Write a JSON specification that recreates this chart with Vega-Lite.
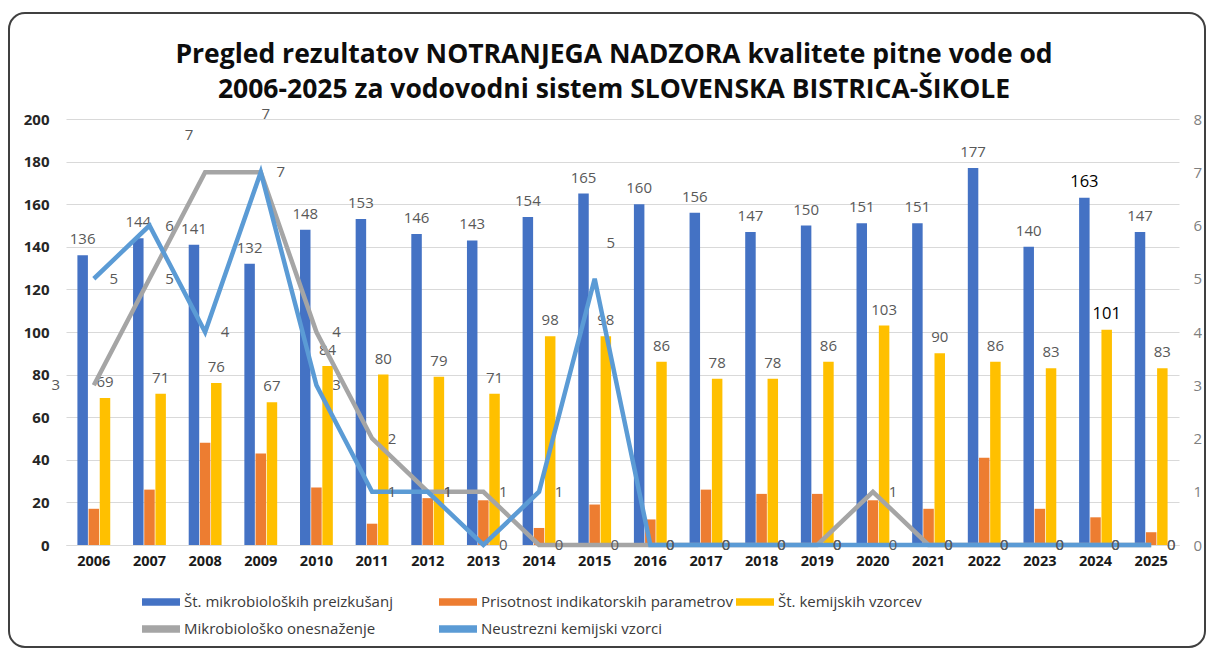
{
  "$schema": "https://vega.github.io/schema/vega-lite/v6.json",
  "width": 1196,
  "height": 634,
  "autosize": {"type": "none"},
  "padding": {"left": 9, "top": 13, "right": 3, "bottom": 1},
  "background": "white",
  "config": {
    "view": {"stroke": "#404040", "strokeWidth": 2, "cornerRadius": 16, "fill": "white"},
    "font": "Open Sans"
  },
  "title": {
    "text": ["Pregled rezultatov NOTRANJEGA NADZORA kvalitete pitne vode od", "2006-2025 za vodovodni sistem SLOVENSKA BISTRICA-ŠIKOLE"],
    "anchor": "middle",
    "font": "Open Sans",
    "fontSize": 26.5,
    "fontWeight": "bold",
    "color": "#0d0d0d",
    "lineHeight": 35,
    "offset": -90,
    "dx": 7
  },
  "datasets": {
    "bars": [
      {"year": "2006", "series": "Št. mikrobioloških preizkušanj", "value": 136},
      {"year": "2006", "series": "Prisotnost indikatorskih parametrov", "value": 17},
      {"year": "2006", "series": "Št. kemijskih vzorcev", "value": 69},
      {"year": "2007", "series": "Št. mikrobioloških preizkušanj", "value": 144},
      {"year": "2007", "series": "Prisotnost indikatorskih parametrov", "value": 26},
      {"year": "2007", "series": "Št. kemijskih vzorcev", "value": 71},
      {"year": "2008", "series": "Št. mikrobioloških preizkušanj", "value": 141},
      {"year": "2008", "series": "Prisotnost indikatorskih parametrov", "value": 48},
      {"year": "2008", "series": "Št. kemijskih vzorcev", "value": 76},
      {"year": "2009", "series": "Št. mikrobioloških preizkušanj", "value": 132},
      {"year": "2009", "series": "Prisotnost indikatorskih parametrov", "value": 43},
      {"year": "2009", "series": "Št. kemijskih vzorcev", "value": 67},
      {"year": "2010", "series": "Št. mikrobioloških preizkušanj", "value": 148},
      {"year": "2010", "series": "Prisotnost indikatorskih parametrov", "value": 27},
      {"year": "2010", "series": "Št. kemijskih vzorcev", "value": 84},
      {"year": "2011", "series": "Št. mikrobioloških preizkušanj", "value": 153},
      {"year": "2011", "series": "Prisotnost indikatorskih parametrov", "value": 10},
      {"year": "2011", "series": "Št. kemijskih vzorcev", "value": 80},
      {"year": "2012", "series": "Št. mikrobioloških preizkušanj", "value": 146},
      {"year": "2012", "series": "Prisotnost indikatorskih parametrov", "value": 22},
      {"year": "2012", "series": "Št. kemijskih vzorcev", "value": 79},
      {"year": "2013", "series": "Št. mikrobioloških preizkušanj", "value": 143},
      {"year": "2013", "series": "Prisotnost indikatorskih parametrov", "value": 21},
      {"year": "2013", "series": "Št. kemijskih vzorcev", "value": 71},
      {"year": "2014", "series": "Št. mikrobioloških preizkušanj", "value": 154},
      {"year": "2014", "series": "Prisotnost indikatorskih parametrov", "value": 8},
      {"year": "2014", "series": "Št. kemijskih vzorcev", "value": 98},
      {"year": "2015", "series": "Št. mikrobioloških preizkušanj", "value": 165},
      {"year": "2015", "series": "Prisotnost indikatorskih parametrov", "value": 19},
      {"year": "2015", "series": "Št. kemijskih vzorcev", "value": 98},
      {"year": "2016", "series": "Št. mikrobioloških preizkušanj", "value": 160},
      {"year": "2016", "series": "Prisotnost indikatorskih parametrov", "value": 12},
      {"year": "2016", "series": "Št. kemijskih vzorcev", "value": 86},
      {"year": "2017", "series": "Št. mikrobioloških preizkušanj", "value": 156},
      {"year": "2017", "series": "Prisotnost indikatorskih parametrov", "value": 26},
      {"year": "2017", "series": "Št. kemijskih vzorcev", "value": 78},
      {"year": "2018", "series": "Št. mikrobioloških preizkušanj", "value": 147},
      {"year": "2018", "series": "Prisotnost indikatorskih parametrov", "value": 24},
      {"year": "2018", "series": "Št. kemijskih vzorcev", "value": 78},
      {"year": "2019", "series": "Št. mikrobioloških preizkušanj", "value": 150},
      {"year": "2019", "series": "Prisotnost indikatorskih parametrov", "value": 24},
      {"year": "2019", "series": "Št. kemijskih vzorcev", "value": 86},
      {"year": "2020", "series": "Št. mikrobioloških preizkušanj", "value": 151},
      {"year": "2020", "series": "Prisotnost indikatorskih parametrov", "value": 21},
      {"year": "2020", "series": "Št. kemijskih vzorcev", "value": 103},
      {"year": "2021", "series": "Št. mikrobioloških preizkušanj", "value": 151},
      {"year": "2021", "series": "Prisotnost indikatorskih parametrov", "value": 17},
      {"year": "2021", "series": "Št. kemijskih vzorcev", "value": 90},
      {"year": "2022", "series": "Št. mikrobioloških preizkušanj", "value": 177},
      {"year": "2022", "series": "Prisotnost indikatorskih parametrov", "value": 41},
      {"year": "2022", "series": "Št. kemijskih vzorcev", "value": 86},
      {"year": "2023", "series": "Št. mikrobioloških preizkušanj", "value": 140},
      {"year": "2023", "series": "Prisotnost indikatorskih parametrov", "value": 17},
      {"year": "2023", "series": "Št. kemijskih vzorcev", "value": 83},
      {"year": "2024", "series": "Št. mikrobioloških preizkušanj", "value": 163},
      {"year": "2024", "series": "Prisotnost indikatorskih parametrov", "value": 13},
      {"year": "2024", "series": "Št. kemijskih vzorcev", "value": 101},
      {"year": "2025", "series": "Št. mikrobioloških preizkušanj", "value": 147},
      {"year": "2025", "series": "Prisotnost indikatorskih parametrov", "value": 6},
      {"year": "2025", "series": "Št. kemijskih vzorcev", "value": 83}
    ],
    "lines": [
      {"year": "2006", "series": "Mikrobiološko onesnaženje", "value": 3},
      {"year": "2007", "series": "Mikrobiološko onesnaženje", "value": 5},
      {"year": "2008", "series": "Mikrobiološko onesnaženje", "value": 7},
      {"year": "2009", "series": "Mikrobiološko onesnaženje", "value": 7},
      {"year": "2010", "series": "Mikrobiološko onesnaženje", "value": 4},
      {"year": "2011", "series": "Mikrobiološko onesnaženje", "value": 2},
      {"year": "2012", "series": "Mikrobiološko onesnaženje", "value": 1},
      {"year": "2013", "series": "Mikrobiološko onesnaženje", "value": 1},
      {"year": "2014", "series": "Mikrobiološko onesnaženje", "value": 0},
      {"year": "2015", "series": "Mikrobiološko onesnaženje", "value": 0},
      {"year": "2016", "series": "Mikrobiološko onesnaženje", "value": 0},
      {"year": "2017", "series": "Mikrobiološko onesnaženje", "value": 0},
      {"year": "2018", "series": "Mikrobiološko onesnaženje", "value": 0},
      {"year": "2019", "series": "Mikrobiološko onesnaženje", "value": 0},
      {"year": "2020", "series": "Mikrobiološko onesnaženje", "value": 1},
      {"year": "2021", "series": "Mikrobiološko onesnaženje", "value": 0},
      {"year": "2022", "series": "Mikrobiološko onesnaženje", "value": 0},
      {"year": "2023", "series": "Mikrobiološko onesnaženje", "value": 0},
      {"year": "2024", "series": "Mikrobiološko onesnaženje", "value": 0},
      {"year": "2025", "series": "Mikrobiološko onesnaženje", "value": 0},
      {"year": "2006", "series": "Neustrezni kemijski vzorci", "value": 5},
      {"year": "2007", "series": "Neustrezni kemijski vzorci", "value": 6},
      {"year": "2008", "series": "Neustrezni kemijski vzorci", "value": 4},
      {"year": "2009", "series": "Neustrezni kemijski vzorci", "value": 7},
      {"year": "2010", "series": "Neustrezni kemijski vzorci", "value": 3},
      {"year": "2011", "series": "Neustrezni kemijski vzorci", "value": 1},
      {"year": "2012", "series": "Neustrezni kemijski vzorci", "value": 1},
      {"year": "2013", "series": "Neustrezni kemijski vzorci", "value": 0},
      {"year": "2014", "series": "Neustrezni kemijski vzorci", "value": 1},
      {"year": "2015", "series": "Neustrezni kemijski vzorci", "value": 5},
      {"year": "2016", "series": "Neustrezni kemijski vzorci", "value": 0},
      {"year": "2017", "series": "Neustrezni kemijski vzorci", "value": 0},
      {"year": "2018", "series": "Neustrezni kemijski vzorci", "value": 0},
      {"year": "2019", "series": "Neustrezni kemijski vzorci", "value": 0},
      {"year": "2020", "series": "Neustrezni kemijski vzorci", "value": 0},
      {"year": "2021", "series": "Neustrezni kemijski vzorci", "value": 0},
      {"year": "2022", "series": "Neustrezni kemijski vzorci", "value": 0},
      {"year": "2023", "series": "Neustrezni kemijski vzorci", "value": 0},
      {"year": "2024", "series": "Neustrezni kemijski vzorci", "value": 0},
      {"year": "2025", "series": "Neustrezni kemijski vzorci", "value": 0}
    ]
  },
  "layer": [
    {
      "data": {"name": "bars"},
      "layer": [
        {
          "mark": {"type": "bar"},
          "encoding": {
            "x": {
              "field": "year", "type": "ordinal",
              "scale": {"range": [57, 1170], "paddingInner": 0.41, "paddingOuter": 0.205},
              "axis": {"orient": "bottom", "offset": -102, "title": null, "labelAngle": 0, "ticks": false, "domain": true, "domainColor": "#D9D9D9", "domainWidth": 1, "labelPadding": 9, "labelFontSize": 14.5, "labelFontWeight": "bold", "labelColor": "#1a1a1a", "labelFont": "Open Sans"}
            },
            "xOffset": {
              "field": "series", "type": "nominal",
              "scale": {"domain": ["Št. mikrobioloških preizkušanj", "Prisotnost indikatorskih parametrov", "Št. kemijskih vzorcev"], "paddingInner": 0.06}
            },
            "y": {
              "field": "value", "type": "quantitative",
              "scale": {"domain": [0, 200], "range": [532, 106], "nice": false},
              "axis": {"orient": "left", "offset": -42, "values": [0, 20, 40, 60, 80, 100, 120, 140, 160, 180, 200], "format": "d", "grid": true, "gridColor": "#D9D9D9", "gridWidth": 1, "domain": false, "ticks": false, "labelPadding": 2, "labelFontSize": 15, "labelFontWeight": "bold", "labelColor": "#262626", "title": null, "labelFont": "Open Sans"}
            },
            "color": {
              "field": "series", "type": "nominal",
              "scale": {
                "domain": ["Št. mikrobioloških preizkušanj", "Prisotnost indikatorskih parametrov", "Št. kemijskih vzorcev", "Mikrobiološko onesnaženje", "Neustrezni kemijski vzorci"],
                "range": ["#4472C4", "#ED7D31", "#FFC000", "#A5A5A5", "#5B9BD5"]
              },
              "legend": {
                "title": null, "orient": "none", "legendX": 133, "legendY": 570, "columns": 3, "gridAlign": "all", "columnPadding": 3, "rowPadding": -1,
                "symbolType": "M-1,-0.2H1V0.2H-1Z", "symbolSize": 1444, "symbolStrokeWidth": 0,
                "labelFontSize": 15, "labelColor": "#3a3a3a", "labelOffset": 4, "labelLimit": 400, "labelFont": "Open Sans", "direction": "horizontal", "padding": 0,
                "encode": {"symbols": {"update": {"fill": {"scale": "color", "field": "value"}, "stroke": {"value": "transparent"}, "opacity": {"value": 1}}}}
              }
            }
          }
        },
        {
          "transform": [{"filter": "datum.series != 'Prisotnost indikatorskih parametrov'"}],
          "mark": {"type": "text", "baseline": "middle", "dy": -16, "font": "Open Sans"},
          "encoding": {
            "x": {"field": "year", "type": "ordinal"},
            "xOffset": {"field": "series", "type": "nominal"},
            "y": {"field": "value", "type": "quantitative"},
            "text": {"field": "value", "type": "quantitative"},
            "color": {"condition": {"test": "datum.year == '2024'", "value": "#000000"}, "value": "#595959"},
            "size": {"condition": {"test": "datum.year == '2024'", "value": 16.5}, "value": 15}
          }
        }
      ]
    },
    {
      "data": {"name": "lines"},
      "layer": [
        {
          "transform": [{"filter": "datum.series == 'Mikrobiološko onesnaženje'"}],
          "mark": {"type": "line", "strokeWidth": 4.5},
          "encoding": {
            "x": {"field": "year", "type": "ordinal"},
            "y": {
              "field": "value", "type": "quantitative",
              "scale": {"domain": [0, 8], "range": [532, 106], "nice": false},
              "axis": {"orient": "right", "offset": -14, "values": [0, 1, 2, 3, 4, 5, 6, 7, 8], "format": "d", "grid": false, "domain": false, "ticks": false, "labelPadding": 2, "labelColor": "#7f7f7f", "labelFontSize": 15, "title": null, "labelFont": "Open Sans"}
            },
            "color": {"field": "series", "type": "nominal"}
          }
        },
        {
          "transform": [{"filter": "datum.series == 'Neustrezni kemijski vzorci'"}],
          "mark": {"type": "line", "strokeWidth": 4.5},
          "encoding": {
            "x": {"field": "year", "type": "ordinal"},
            "y": {"field": "value", "type": "quantitative"},
            "color": {"field": "series", "type": "nominal"}
          }
        },
        {
          "transform": [{"filter": "!((datum.series == 'Mikrobiološko onesnaženje' && (datum.year == '2006' || datum.year == '2008' || datum.year == '2009')) || (datum.series == 'Neustrezni kemijski vzorci' && datum.year == '2015'))"}],
          "mark": {"type": "text", "baseline": "middle", "align": "center", "dx": 20, "fontSize": 15, "color": "#595959", "font": "Open Sans"},
          "encoding": {
            "x": {"field": "year", "type": "ordinal"},
            "y": {"field": "value", "type": "quantitative"},
            "text": {"field": "value", "type": "quantitative"}
          }
        },
        {
          "transform": [{"filter": "datum.series == 'Mikrobiološko onesnaženje' && datum.year == '2006'"}],
          "mark": {"type": "text", "baseline": "middle", "align": "center", "dx": -38, "dy": 0, "fontSize": 15, "color": "#595959", "font": "Open Sans"},
          "encoding": {
            "x": {"field": "year", "type": "ordinal"},
            "y": {"field": "value", "type": "quantitative"},
            "text": {"field": "value", "type": "quantitative"}
          }
        },
        {
          "transform": [{"filter": "datum.series == 'Mikrobiološko onesnaženje' && datum.year == '2008'"}],
          "mark": {"type": "text", "baseline": "middle", "align": "center", "dx": -16, "dy": -37, "fontSize": 15, "color": "#595959", "font": "Open Sans"},
          "encoding": {
            "x": {"field": "year", "type": "ordinal"},
            "y": {"field": "value", "type": "quantitative"},
            "text": {"field": "value", "type": "quantitative"}
          }
        },
        {
          "transform": [{"filter": "datum.series == 'Mikrobiološko onesnaženje' && datum.year == '2009'"}],
          "mark": {"type": "text", "baseline": "middle", "align": "center", "dx": 5, "dy": -58, "fontSize": 15, "color": "#595959", "font": "Open Sans"},
          "encoding": {
            "x": {"field": "year", "type": "ordinal"},
            "y": {"field": "value", "type": "quantitative"},
            "text": {"field": "value", "type": "quantitative"}
          }
        },
        {
          "transform": [{"filter": "datum.series == 'Neustrezni kemijski vzorci' && datum.year == '2015'"}],
          "mark": {"type": "text", "baseline": "middle", "align": "center", "dx": 16, "dy": -36, "fontSize": 15, "color": "#595959", "font": "Open Sans"},
          "encoding": {
            "x": {"field": "year", "type": "ordinal"},
            "y": {"field": "value", "type": "quantitative"},
            "text": {"field": "value", "type": "quantitative"}
          }
        }
      ]
    }
  ],
  "resolve": {"scale": {"y": "independent"}, "axis": {"y": "independent"}}
}
